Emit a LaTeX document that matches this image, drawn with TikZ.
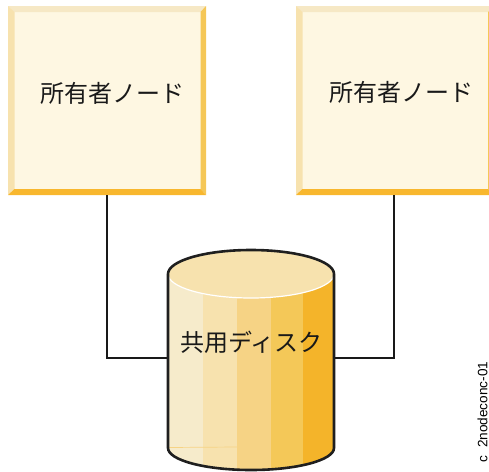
\documentclass[tikz,border=0pt]{standalone}
\usepackage{fontspec}
\setsansfont{Liberation Sans}
\newfontfamily\cjk{Noto Sans CJK JP}
\definecolor{boxface}{HTML}{FEF7E2}
\definecolor{bevtop}{HTML}{F6E8C5}
\definecolor{bevleft}{HTML}{F7E2AE}
\definecolor{bevright}{HTML}{F5C757}
\definecolor{bevbottom}{HTML}{F8B72E}
\definecolor{bandA}{HTML}{F6EBCB}
\definecolor{bandB}{HTML}{F7E2AE}
\definecolor{bandC}{HTML}{F6D385}
\definecolor{bandD}{HTML}{F4C858}
\definecolor{bandE}{HTML}{F4B42A}
\tikzset{
    ownerbox/.style={fill=boxface, inner sep=0, minimum width=198pt, minimum height=189pt},
    label/.style={font=\cjk\fontsize{24}{28}\selectfont, text=black!90},
    wire/.style={line width=2pt, black!90},
}

\begin{document}
\begin{tikzpicture}[x=1pt, y=-1pt]
    \useasboundingbox (0,0) rectangle (489,471);
    \clip (0,0) rectangle (489,471);

    \node [ownerbox] (owner1) at (107,100.5) {};
    \fill [bevtop] (8,6) -- (206,6) -- (200.5,12) -- (14.5,12) -- cycle;
    \fill [bevleft] (8,6) -- (14.5,12) -- (14.5,189) -- (8,195) -- cycle;
    \fill [bevright] (206,6) -- (200.5,12) -- (200.5,189) -- (206,195) -- cycle;
    \fill [bevbottom] (8,195) -- (14.5,189) -- (200.5,189) -- (206,195) -- cycle;
    \node [label] (text1) at (112,93) {所有者ノード};

    \node [ownerbox] (owner2) at (395,100.5) {};
    \fill [bevtop] (296,6) -- (494,6) -- (488,12) -- (302.5,12) -- cycle;
    \fill [bevleft] (296,6) -- (302.5,12) -- (302.5,189) -- (296,195) -- cycle;
    \fill [bevright] (494,6) -- (488,12) -- (488,189) -- (494,195) -- cycle;
    \fill [bevbottom] (296,195) -- (302.5,189) -- (488,189) -- (494,195) -- cycle;
    \node [label] (text2) at (401,92) {所有者ノード};

    \node [minimum width=166pt, minimum height=10pt, inner sep=0] (disk) at (251,358) {};
    \draw [wire] (owner1.south) |- (disk.west);
    \draw [wire] (owner2.south -| 394,0) |- (disk.east);

    \begin{scope}
        \clip (168,274) -- (168,448) arc [start angle=180, end angle=0, x radius=83, y radius=22]
            -- (334,274) arc [start angle=0, end angle=180, x radius=83, y radius=24] -- cycle;
        \fill [bandA] (168,245) rectangle (203,471);
        \fill [bandB] (203,245) rectangle (237,471);
        \fill [bandC] (237,245) rectangle (271,471);
        \fill [bandD] (271,245) rectangle (303,471);
        \fill [bandE] (303,245) rectangle (334,471);
        \draw [bandC, line width=0.7pt] (168,447.5) -- (237,447);
    \end{scope}
    \fill [bandB] (251,274) ellipse [x radius=83, y radius=24];
    \draw [white, line width=1.2pt] (168,274) arc [start angle=180, end angle=0, x radius=83, y radius=24];
    \draw [line width=2.6pt, black!88] (168,274) -- (168,448) arc [start angle=180, end angle=0, x radius=83, y radius=22]
        -- (334,274) arc [start angle=0, end angle=-180, x radius=83, y radius=24];
    \node [label] (text3) at (251.5,342) {共用ディスク};

    \node [rotate=90, font=\sffamily\fontsize{13.6}{16}\selectfont] (figid) at (482.5,412) {c\ \ 2nodeconc-01};
\end{tikzpicture}
\end{document}
